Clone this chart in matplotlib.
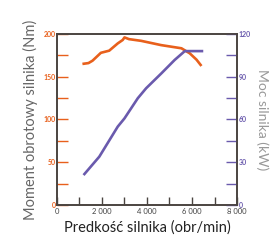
import numpy as np
import matplotlib.pyplot as plt
from matplotlib.ticker import FixedLocator

plt.rcParams['font.family'] = ['Lato', 'DejaVu Sans']

# engine speed (rpm) and torque (Nm)
rpm_torque = [1130, 1400, 1580, 1950, 2320, 2700, 2920, 3000, 3200, 3740, 4630, 5530, 5900, 6200, 6420]
torque = [165, 166, 168.8, 178, 180.5, 189, 193, 196, 194, 192, 187, 183.3, 177.4, 170, 162.6]

# engine speed (rpm) and power (kW)
rpm_power = [1180, 1880, 2700, 3000, 3590, 3960, 4640, 5230, 5680, 6500]
power = [21, 33.9, 55, 60.8, 74.9, 81.9, 92.4, 101.8, 108, 108]

x_ticks = [0, 1000, 2000, 3000, 4000, 5000, 6000, 7000, 8000]
x_labels = ['0', '', '2 000', '', '4 000', '', '6 000', '', '8 000']

orange = '#e8601c'
purple = '#6a5aad'
spine = '#4a4440'

fig = plt.figure(figsize=(2.76, 2.41), dpi=100)
ax = fig.add_axes([0.2065, 0.1494, 0.6522, 0.7095])
ax2 = ax.twinx()

ax.plot(rpm_torque, torque, color=orange, lw=1.9, solid_capstyle='butt')
ax2.plot(rpm_power, power, color=purple, lw=1.9, solid_capstyle='butt')

ax.set_xlim(0, 8000)
ax.set_ylim(0, 200)
ax2.set_ylim(0, 120)

ax.set_xticks(x_ticks)
ax.set_xticklabels(x_labels, fontsize=5.5, color='#444')
ax.tick_params(axis='x', direction='in', length=6, width=1, color=spine, pad=2)

ax.set_yticks([0, 50, 100, 150, 200])
ax.set_yticklabels(['0', '50', '100', '150', '200'], fontsize=5, color=orange, fontweight='bold')
ax.yaxis.set_minor_locator(FixedLocator([25, 75, 125, 175]))
ax.tick_params(axis='y', which='both', direction='in', length=8, width=1, color=orange, pad=1)

ax2.set_yticks([0, 30, 60, 90, 120])
ax2.set_yticklabels(['0', '30', '60', '90', '120'], fontsize=5, color=purple, fontweight='bold')
ax2.yaxis.set_minor_locator(FixedLocator([15, 45, 75, 105]))
ax2.tick_params(axis='y', which='both', direction='in', length=8, width=1, color=purple, pad=1)

for a in (ax, ax2):
    for s in a.spines.values():
        s.set_color(spine)
        s.set_linewidth(1.2)

ax.set_ylabel('Moment obrotowy silnika (Nm)', fontsize=10.5, color='#666', labelpad=4)
ax2.set_ylabel('Moc silnika (kW)', fontsize=10, color='#999', rotation=270, labelpad=13)
ax.set_xlabel('Predkość silnika (obr/min)', fontsize=10.5, color='#222', labelpad=4)

fig.savefig('out.png', dpi=100)
